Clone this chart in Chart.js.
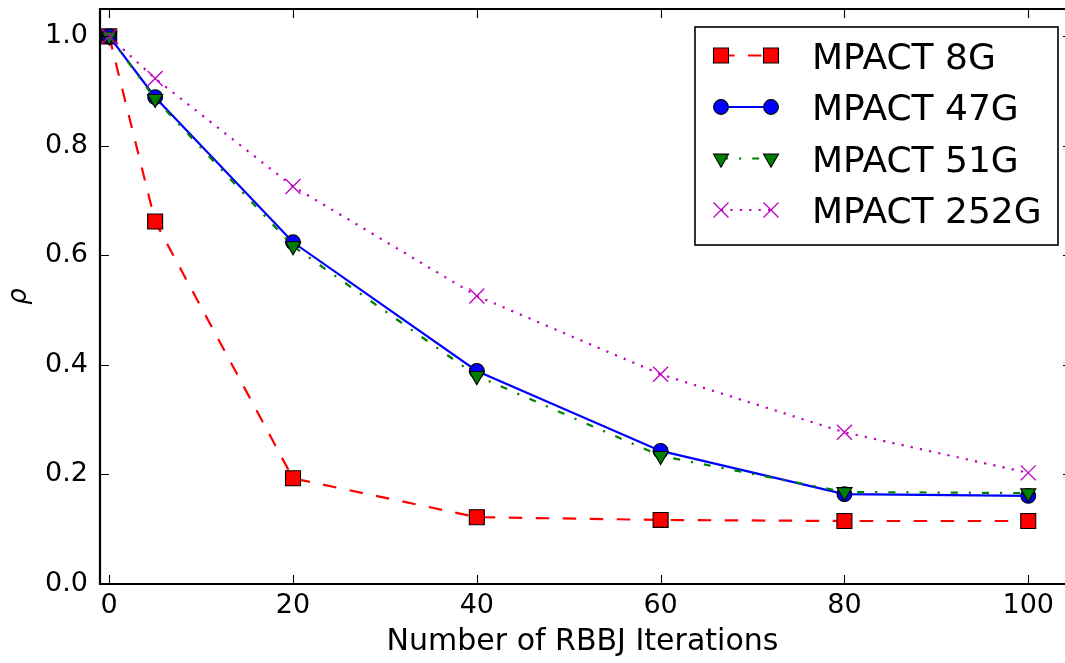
<!DOCTYPE html>
<html>
<head>
<meta charset="utf-8">
<script src="https://cdn.jsdelivr.net/npm/chart.js@4/dist/chart.umd.min.js"></script>
<style>
  html, body { margin: 0; padding: 0; background: #fff; overflow: hidden; }
  #wrap { width: 1065px; height: 663px; }
</style>
</head>
<body>
<div id="wrap"><canvas id="c" width="1065" height="663"></canvas></div>
<script>
// ---- data ----
const iterations = [0, 5, 20, 40, 60, 80, 100];
const mpact8G   = [1.0, 0.662, 0.193, 0.122, 0.117, 0.115, 0.115];
const mpact47G  = [1.0, 0.889, 0.624, 0.389, 0.243, 0.164, 0.161];
const mpact51G  = [1.0, 0.886, 0.617, 0.380, 0.234, 0.168, 0.166];
const mpact252G = [1.0, 0.923, 0.726, 0.526, 0.383, 0.277, 0.203];
const seriesNames = ['MPACT 8G', 'MPACT 47G', 'MPACT 51G', 'MPACT 252G'];
const xTickValues = [0, 20, 40, 60, 80, 100];
const yTickValues = [0.0, 0.2, 0.4, 0.6, 0.8, 1.0];
const xTitle = 'Number of RBBJ Iterations';
const yTitle = 'ρ';

const toPts = ys => ys.map((y, i) => ({x: iterations[i], y}));
const FONT = 'DejaVu Sans';

const datasets = [
  { label: seriesNames[0], data: toPts(mpact8G), order: 4,
    borderColor: '#ff0000', borderWidth: 2.2, borderDash: [13.5, 13.5],
    pointStyle: 'rect', pointRadius: 10.6, pointBackgroundColor: '#ff0000',
    pointBorderColor: '#000000', pointBorderWidth: 1.1 },
  { label: seriesNames[1], data: toPts(mpact47G), order: 3,
    borderColor: '#0000ff', borderWidth: 2.2, borderDash: [],
    pointStyle: 'circle', pointRadius: 7.4, pointBackgroundColor: '#0000ff',
    pointBorderColor: '#000000', pointBorderWidth: 1.1 },
  { label: seriesNames[2], data: toPts(mpact51G), order: 2,
    borderColor: '#007f00', borderWidth: 2.2, borderDash: [7, 11, 2.2, 11],
    pointStyle: 'triangle', pointRotation: 180, pointRadius: 8.7, pointBackgroundColor: '#007f00',
    pointBorderColor: '#000000', pointBorderWidth: 1.1 },
  { label: seriesNames[3], data: toPts(mpact252G), order: 1,
    borderColor: '#bf00bf', borderWidth: 2.2, borderDash: [2.2, 7.2],
    pointStyle: 'crossRot', pointRadius: 10.6, pointBackgroundColor: '#bf00bf',
    pointBorderColor: '#bf00bf', pointBorderWidth: 1.3 }
];

// frame, inner ticks and legend
const decor = {
  id: 'decor',
  afterDatasetsDraw(chart) {
    const {ctx, chartArea: a, scales} = chart;
    ctx.save();
    const TL = 9;
    const rightSpine = a.right + 7; // right spine lies just beyond the visible edge
    ctx.strokeStyle = '#000'; ctx.lineWidth = 1.1; ctx.setLineDash([]);
    xTickValues.forEach(v => {
      const px = Math.round(scales.x.getPixelForValue(v)) + 0.5;
      ctx.beginPath();
      ctx.moveTo(px, a.bottom); ctx.lineTo(px, a.bottom - TL);
      ctx.moveTo(px, a.top); ctx.lineTo(px, a.top + TL);
      ctx.stroke();
    });
    yTickValues.forEach(v => {
      const py = Math.round(scales.y.getPixelForValue(v)) + 0.5;
      ctx.beginPath();
      ctx.moveTo(a.left, py); ctx.lineTo(a.left + TL, py);
      ctx.moveTo(rightSpine, py); ctx.lineTo(rightSpine - TL, py);
      ctx.stroke();
    });
    // frame: left, top, bottom spines
    ctx.lineWidth = 2.2;
    ctx.beginPath();
    ctx.moveTo(rightSpine, a.top); ctx.lineTo(a.left, a.top);
    ctx.lineTo(a.left, a.bottom); ctx.lineTo(rightSpine, a.bottom);
    ctx.stroke();

    // legend
    const L = {x0: 695, y0: 27, x1: 1058, y1: 245};
    ctx.fillStyle = '#fff';
    ctx.fillRect(L.x0, L.y0, L.x1 - L.x0, L.y1 - L.y0);
    ctx.strokeStyle = '#000'; ctx.lineWidth = 1.6;
    ctx.strokeRect(L.x0, L.y0, L.x1 - L.x0, L.y1 - L.y0);
    const rows = [55.5, 107, 158.5, 210];
    const hx0 = 721, hx1 = 771;
    chart.data.datasets.forEach((ds, i) => {
      const y = rows[i];
      ctx.save();
      ctx.strokeStyle = ds.borderColor; ctx.lineWidth = ds.borderWidth;
      ctx.setLineDash(ds.borderDash || []);
      ctx.beginPath(); ctx.moveTo(hx0, y); ctx.lineTo(hx1, y); ctx.stroke();
      ctx.setLineDash([]);
      ctx.fillStyle = ds.pointBackgroundColor;
      ctx.strokeStyle = ds.pointBorderColor;
      ctx.lineWidth = ds.pointBorderWidth;
      [hx0, hx1].forEach(px => {
        Chart.helpers.drawPoint(ctx, {pointStyle: ds.pointStyle, radius: ds.pointRadius,
          rotation: ds.pointRotation || 0, borderWidth: ds.pointBorderWidth}, px, y);
      });
      ctx.restore();
      ctx.fillStyle = '#000';
      ctx.font = '36px "' + FONT + '"';
      ctx.textBaseline = 'alphabetic'; ctx.textAlign = 'left';
      ctx.fillText(ds.label, 812, y + 13);
    });
    ctx.restore();
  }
};

new Chart(document.getElementById('c'), {
  type: 'line',
  data: { datasets },
  options: {
    responsive: false,
    devicePixelRatio: 1,
    animation: false,
    events: [],
    layout: { autoPadding: false, padding: { left: 0, top: 9, right: 0, bottom: 0 } },
    plugins: { legend: { display: false }, tooltip: { enabled: false } },
    elements: { line: { tension: 0, fill: false }, point: { hitRadius: 0 } },
    clip: false,
    scales: {
      x: {
        type: 'linear', min: -1, max: 104,
        afterBuildTicks: s => { s.ticks = xTickValues.map(v => ({value: v})); },
        afterFit: s => { s.height = 79; s.paddingLeft = 0; s.paddingRight = 0; },
        grid: { display: false, drawTicks: false },
        border: { display: false },
        ticks: { color: '#000', padding: 6, maxRotation: 0, autoSkip: false,
                 font: { family: FONT, size: 27 }, callback: v => String(v) },
        title: { display: true, text: xTitle, color: '#000',
                 font: { family: FONT, size: 30 }, padding: { top: 0, bottom: 3 } }
      },
      y: {
        type: 'linear', min: 0, max: 1.05,
        afterBuildTicks: s => { s.ticks = yTickValues.map(v => ({value: v})); },
        afterFit: s => { s.width = 100; s.paddingTop = 0; s.paddingBottom = 0; },
        grid: { display: false, drawTicks: false },
        border: { display: false },
        ticks: { color: '#000', padding: 12, autoSkip: false,
                 font: { family: FONT, size: 27 }, callback: v => Number(v).toFixed(1) },
        title: { display: true, text: yTitle, color: '#000',
                 font: { family: FONT, size: 26, style: 'italic' }, padding: { top: 4, bottom: 0 } }
      }
    }
  },
  plugins: [decor]
});
</script>
</body>
</html>
